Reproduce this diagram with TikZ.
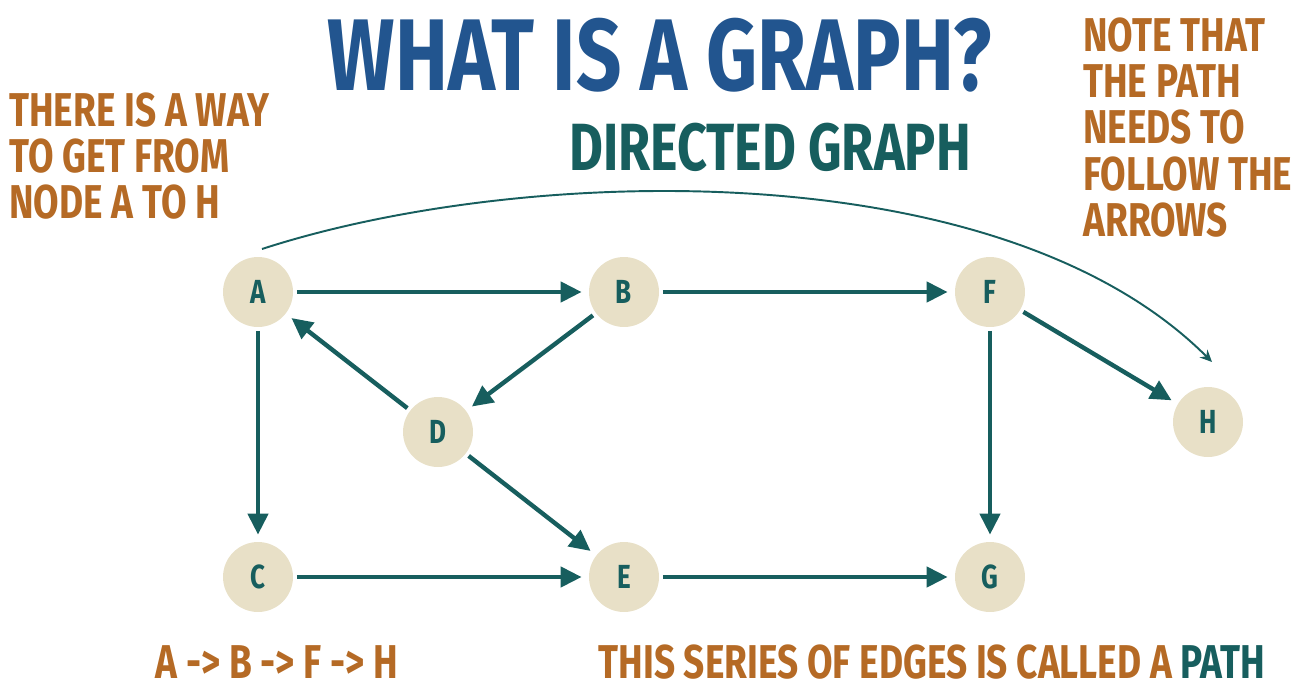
\documentclass[tikz,border=0pt]{standalone}
\usepackage{fontspec}
\usepackage{tikz}
\usetikzlibrary{arrows.meta}
\newfontfamily\handfont{Fira Sans}[FakeStretch=0.78]

\definecolor{titleblue}{HTML}{22558F}
\definecolor{noteorange}{HTML}{B56A25}
\definecolor{edgeteal}{HTML}{175E5E}
\definecolor{nodefill}{HTML}{E8E0C7}

\tikzset{
  graphnode/.style={circle, fill=nodefill, minimum size=1.4cm, inner sep=0pt,
    text=edgeteal, font=\handfont\bfseries\fontsize{19}{19}\selectfont},
  edge/.style={edgeteal, line width=2.5pt, shorten <=2pt, shorten >=4pt,
    -{Triangle[length=0.42cm,width=0.4cm]}},
  pathcurve/.style={edgeteal, line width=1.1pt, -{Stealth[length=0.24cm,width=0.22cm]}},
  notetext/.style={text=noteorange, align=left, inner sep=0pt,
    font=\handfont\bfseries\fontsize{27}{26.4}\selectfont}
}

\begin{document}
\begin{tikzpicture}[x=0.02cm, y=-0.02cm]
\useasboundingbox (0,0) rectangle (1301,690);

\node (title) at (660,55) [text=titleblue, font=\handfont\bfseries\fontsize{58}{58}\selectfont] {WHAT IS A GRAPH?};
\node (subtitle) at (770,147) [text=edgeteal, font=\handfont\bfseries\fontsize{38}{38}\selectfont] {DIRECTED GRAPH};

\node (leftnote) at (9,92) [notetext, anchor=north west] {THERE IS A WAY\\TO GET FROM\\NODE A TO H};
\node (rightnote) at (1083,17) [notetext, anchor=north west] {NOTE THAT\\THE PATH\\NEEDS TO\\FOLLOW THE\\ARROWS};

% nodes
\node (A) at (258,292) [graphnode] {A};
\node (B) at (624,292) [graphnode] {B};
\node (F) at (990,292) [graphnode] {F};
\node (D) at (438,432) [graphnode] {D};
\node (H) at (1208,422) [graphnode] {H};
\node (C) at (258,577) [graphnode] {C};
\node (E) at (624,577) [graphnode] {E};
\node (G) at (990,577) [graphnode] {G};

% edges
\draw[edge] (A) -- (B);
\draw[edge] (B) -- (F);
\draw[edge] (A) -- (C);
\draw[edge] (B) -- (D);
\draw[edge] (D) -- (A);
\draw[edge] (D) -- (E);
\draw[edge] (C) -- (E);
\draw[edge] (E) -- (G);
\draw[edge] (F) -- (G);
\draw[edge] (F) -- (H);

% the path A to H
\coordinate (pathstart) at (262,249);
\coordinate (pathend) at (1212,362);
\draw[pathcurve] (pathstart) .. controls (520,165) and (1000,150) .. (pathend);

\node (pathlist) at (277,662) [notetext] {A -> B -> F -> H};
\node (pathnote) at (932,662) [notetext] {THIS SERIES OF EDGES IS CALLED A \textcolor{edgeteal}{PATH}};

\end{tikzpicture}
\end{document}
